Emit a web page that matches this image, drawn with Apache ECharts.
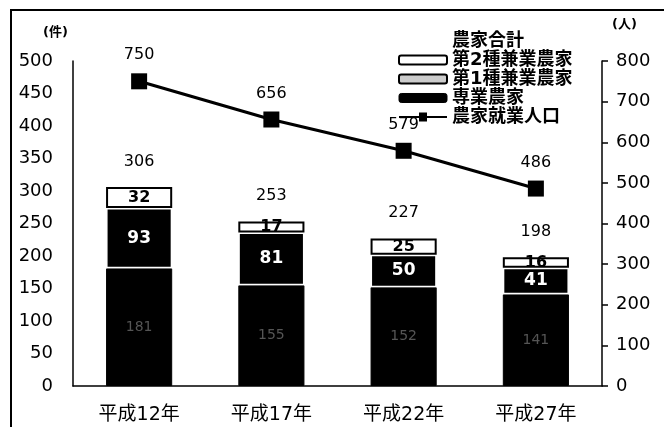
<!DOCTYPE html>
<html><head><meta charset="utf-8">
<script src="https://cdn.jsdelivr.net/npm/echarts@6/dist/echarts.min.js"></script>
<style>html,body{margin:0;padding:0;background:#fff}#c{width:664px;height:427px}</style>
</head><body><div id="c"></div>
<script>
const categories = ['平成12年','平成17年','平成22年','平成27年'];
const sengyo = [181, 155, 152, 141];      // 専業農家
const kengyo1 = [93, 81, 50, 41];         // 第1種兼業農家
const kengyo2 = [32, 17, 25, 16];         // 第2種兼業農家
const totals = [306, 253, 227, 198];      // 農家合計
const population = [750, 656, 579, 486];  // 農家就業人口
const leftTicks = {min:0, max:500, interval:50};
const rightTicks = {min:0, max:800, interval:100};

const FONT = "'DejaVu Sans','Noto Sans CJK JP',sans-serif";
const chart = echarts.init(document.getElementById('c'));
chart.setOption({
  animation:false,
  textStyle:{fontFamily:FONT, color:'#000'},
  graphic:[{type:'polyline', shape:{points:[[11,427],[11,10],[664,10]]}, style:{stroke:'#000', lineWidth:2, fill:null}, silent:true}],
  legend:{
    orient:'vertical', left:393, top:27, itemWidth:48, itemHeight:9, itemGap:1,
    textStyle:{fontSize:18, fontWeight:'bold', color:'#000', fontFamily:FONT, lineHeight:15},
    data:[
      {name:'農家合計', icon:'none'},
      {name:'第2種兼業農家', icon:'roundRect', itemStyle:{color:'#fff', borderColor:'#000', borderWidth:2}},
      {name:'第1種兼業農家', icon:'roundRect', itemStyle:{color:'#ccc', borderColor:'#000', borderWidth:2}},
      {name:'専業農家', icon:'roundRect', itemStyle:{color:'#000', borderColor:'#000', borderWidth:1}},
      {name:'農家就業人口', icon:'path://M0,3.5h48v2H0z M20,0h8v9h-8z', itemStyle:{color:'#000', borderWidth:0}}
    ]
  },
  grid:{left:73, right:62, top:61, bottom:41},
  xAxis:{type:'category', data:categories,
    axisLine:{lineStyle:{color:'#000', width:1.5}}, axisTick:{show:false},
    axisLabel:{fontSize:19, color:'#000', margin:20, fontFamily:FONT}},
  yAxis:[
    {type:'value', min:leftTicks.min, max:leftTicks.max, interval:leftTicks.interval,
     name:'(件)', nameLocation:'end', nameGap:22,
     nameTextStyle:{fontSize:13, fontWeight:'bold', align:'right', padding:[0,5,0,0], color:'#000'},
     axisLine:{show:true, lineStyle:{color:'#000', width:1.5}}, axisTick:{show:false},
     splitLine:{show:false}, axisLabel:{fontSize:18, color:'#000', margin:20}},
    {type:'value', min:rightTicks.min, max:rightTicks.max, interval:rightTicks.interval,
     name:'(人)', nameLocation:'end', nameGap:30,
     nameTextStyle:{fontSize:13, fontWeight:'bold', align:'left', padding:[0,0,0,10], color:'#000'},
     axisLine:{show:true, lineStyle:{color:'#000', width:1.5}},
     axisTick:{show:true, length:6, lineStyle:{color:'#000', width:1.5}},
     splitLine:{show:false}, axisLabel:{fontSize:18, color:'#000', margin:14}}
  ],
  series:[
    {name:'専業農家', type:'bar', stack:'a', barWidth:'50%', data:sengyo,
     itemStyle:{color:'#000', borderColor:'#000', borderWidth:1},
     label:{show:true, position:'inside', color:'#555', fontSize:14}},
    {name:'第1種兼業農家', type:'bar', stack:'a', data:kengyo1,
     itemStyle:{color:'#000', borderColor:'#fff', borderWidth:1.5},
     label:{show:true, position:'inside', color:'#fff', fontSize:17, fontWeight:'bold', textBorderColor:'#000', textBorderWidth:1}},
    {name:'第2種兼業農家', type:'bar', stack:'a', data:kengyo2,
     itemStyle:{color:'#fff', borderColor:'#000', borderWidth:2},
     label:{show:true, position:'inside', color:'#000', fontSize:16, fontWeight:'bold'}},
    {name:'農家合計', type:'line', data:totals, symbol:'circle', symbolSize:1, showSymbol:true,
     lineStyle:{width:0, opacity:0}, itemStyle:{color:'rgba(0,0,0,0)'}, z:5,
     label:{show:true, position:'top', distance:17, color:'#000', fontSize:16}},
    {name:'農家就業人口', type:'line', yAxisIndex:1, data:population,
     symbol:'rect', symbolSize:16, lineStyle:{color:'#000', width:3}, itemStyle:{color:'#000'},
     label:{show:true, position:'top', distance:10, color:'#000', fontSize:16}}
  ]
});
</script></body></html>
